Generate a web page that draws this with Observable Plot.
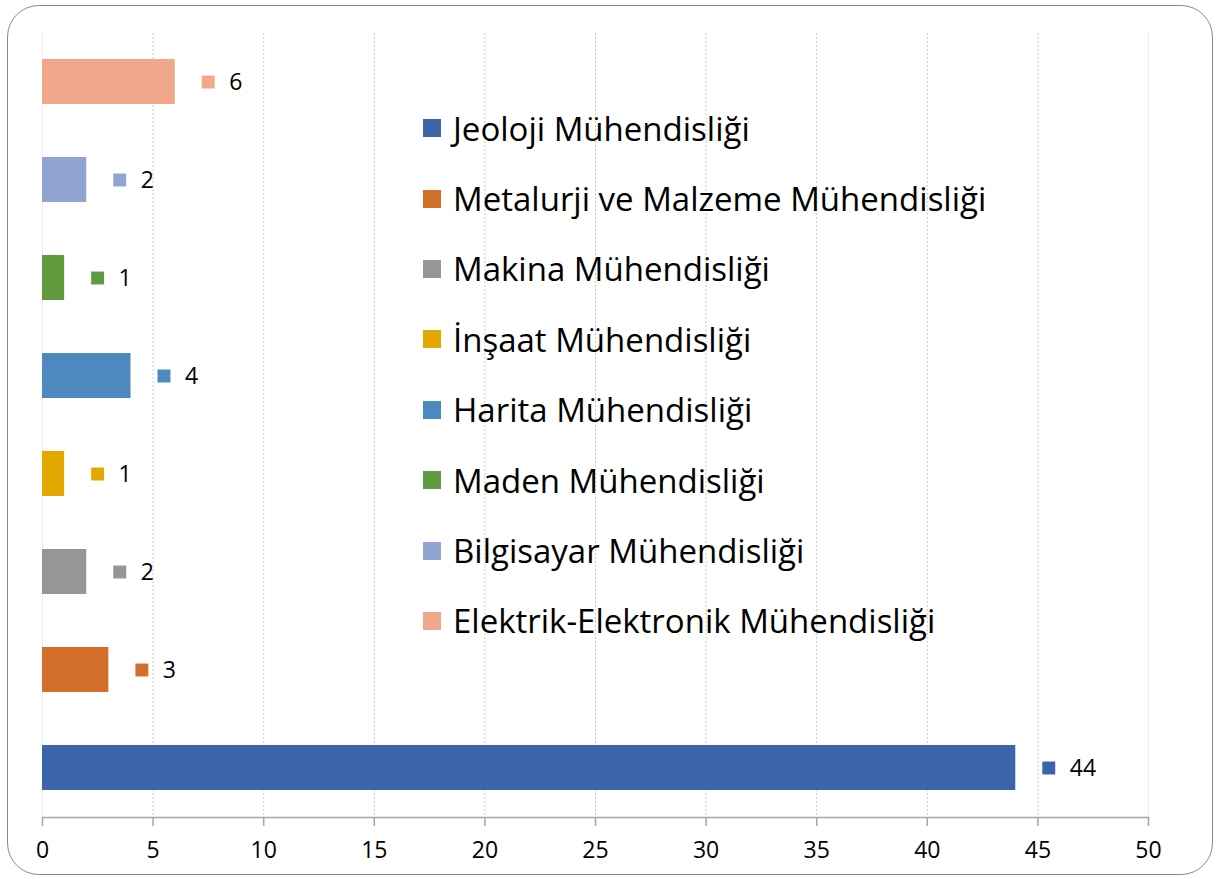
<!DOCTYPE html>
<html>
<head>
<meta charset="utf-8">
<script src="https://cdn.jsdelivr.net/npm/d3@7"></script>
<script src="https://cdn.jsdelivr.net/npm/@observablehq/plot@0.6"></script>
<style>
  html, body { margin: 0; padding: 0; background: #fff; }
  #wrap { position: relative; width: 1217px; height: 879px; overflow: hidden; font-family: "Open Sans", "Noto Sans", sans-serif; }
  #border { position: absolute; left: 7px; top: 5px; width: 1206px; height: 870px; border: 1.5px solid #8a8a8a; border-radius: 32px; box-sizing: border-box; }
  #chart { position: absolute; left: 0; top: 0; }
  #legend { position: absolute; left: 423px; top: 93px; }
  .row { display: flex; align-items: center; height: 70.4px; }
  .sw { width: 18px; height: 18px; margin-right: 12px; flex: none; }
  .lab { font-size: 33px; color: #000; white-space: nowrap; }
</style>
</head>
<body>
<div id="wrap">
  <div id="border"></div>
  <div id="chart"></div>
  <div id="legend"></div>
</div>
<script>
// Data (bottom-to-top order as in the chart; legend lists in this order)
const categories = [
  "Jeoloji Mühendisliği",
  "Metalurji ve Malzeme Mühendisliği",
  "Makina Mühendisliği",
  "İnşaat Mühendisliği",
  "Harita Mühendisliği",
  "Maden Mühendisliği",
  "Bilgisayar Mühendisliği",
  "Elektrik-Elektronik Mühendisliği"
];
const values = [44, 3, 2, 1, 4, 1, 2, 6];
const colors = ["#3c64aa", "#d46f2b", "#969696", "#e3a800", "#4d89bf", "#5f9a3c", "#90a5d3", "#f0a78a"];
const xTicks = [0, 5, 10, 15, 20, 25, 30, 35, 40, 45, 50];
const gridTicks = [5, 10, 15, 20, 25, 30, 35, 40, 45];

const data = categories.map((c, i) => ({cat: c, value: values[i], color: colors[i]}));
const yDomain = categories.slice().reverse();

const chart = Plot.plot({
  width: 1217,
  height: 879,
  marginLeft: 42,
  marginRight: 69,
  marginTop: 33,
  marginBottom: 62,
  style: {fontFamily: "'Open Sans', 'Noto Sans', sans-serif", fontSize: "23px", color: "#000", background: "transparent"},
  x: {domain: [0, 50], ticks: xTicks, label: null},
  y: {domain: yDomain, paddingInner: 0.54, paddingOuter: 0.27, axis: null},
  marks: [
    Plot.ruleY([0], {frameAnchor: "top", stroke: "#ececec", strokeWidth: 1}),
    Plot.ruleX([0, 50], {stroke: "#ececec", strokeWidth: 1}),
    Plot.ruleX(gridTicks, {stroke: "#c8c8c8", strokeWidth: 1, strokeDasharray: "2,2"}),
    Plot.barX(data, {x: "value", y: "cat", fill: "color"}),
    Plot.dot(data, {x: "value", y: "cat", fill: "color", symbol: "square", r: 7.3, dx: 33, stroke: null}),
    Plot.text(data, {x: "value", y: "cat", text: d => String(d.value), dx: 54, dy: 1, textAnchor: "start", fill: "#000", fontSize: 23}),
    Plot.frame({anchor: "bottom", stroke: "#a6a6a6", strokeWidth: 1.5}),
    Plot.axisX({ticks: xTicks, label: null, tickSize: 9, tickPadding: 15, stroke: "#a6a6a6", strokeWidth: 1.5, fill: "#000", fontSize: 23, tickFormat: d => String(d)})
  ]
});
document.getElementById("chart").appendChild(chart);

const legend = document.getElementById("legend");
categories.forEach((c, i) => {
  const row = document.createElement("div");
  row.className = "row";
  const sw = document.createElement("span");
  sw.className = "sw";
  sw.style.background = colors[i];
  const lab = document.createElement("span");
  lab.className = "lab";
  lab.textContent = c;
  row.appendChild(sw);
  row.appendChild(lab);
  legend.appendChild(row);
});
</script>
</body>
</html>
